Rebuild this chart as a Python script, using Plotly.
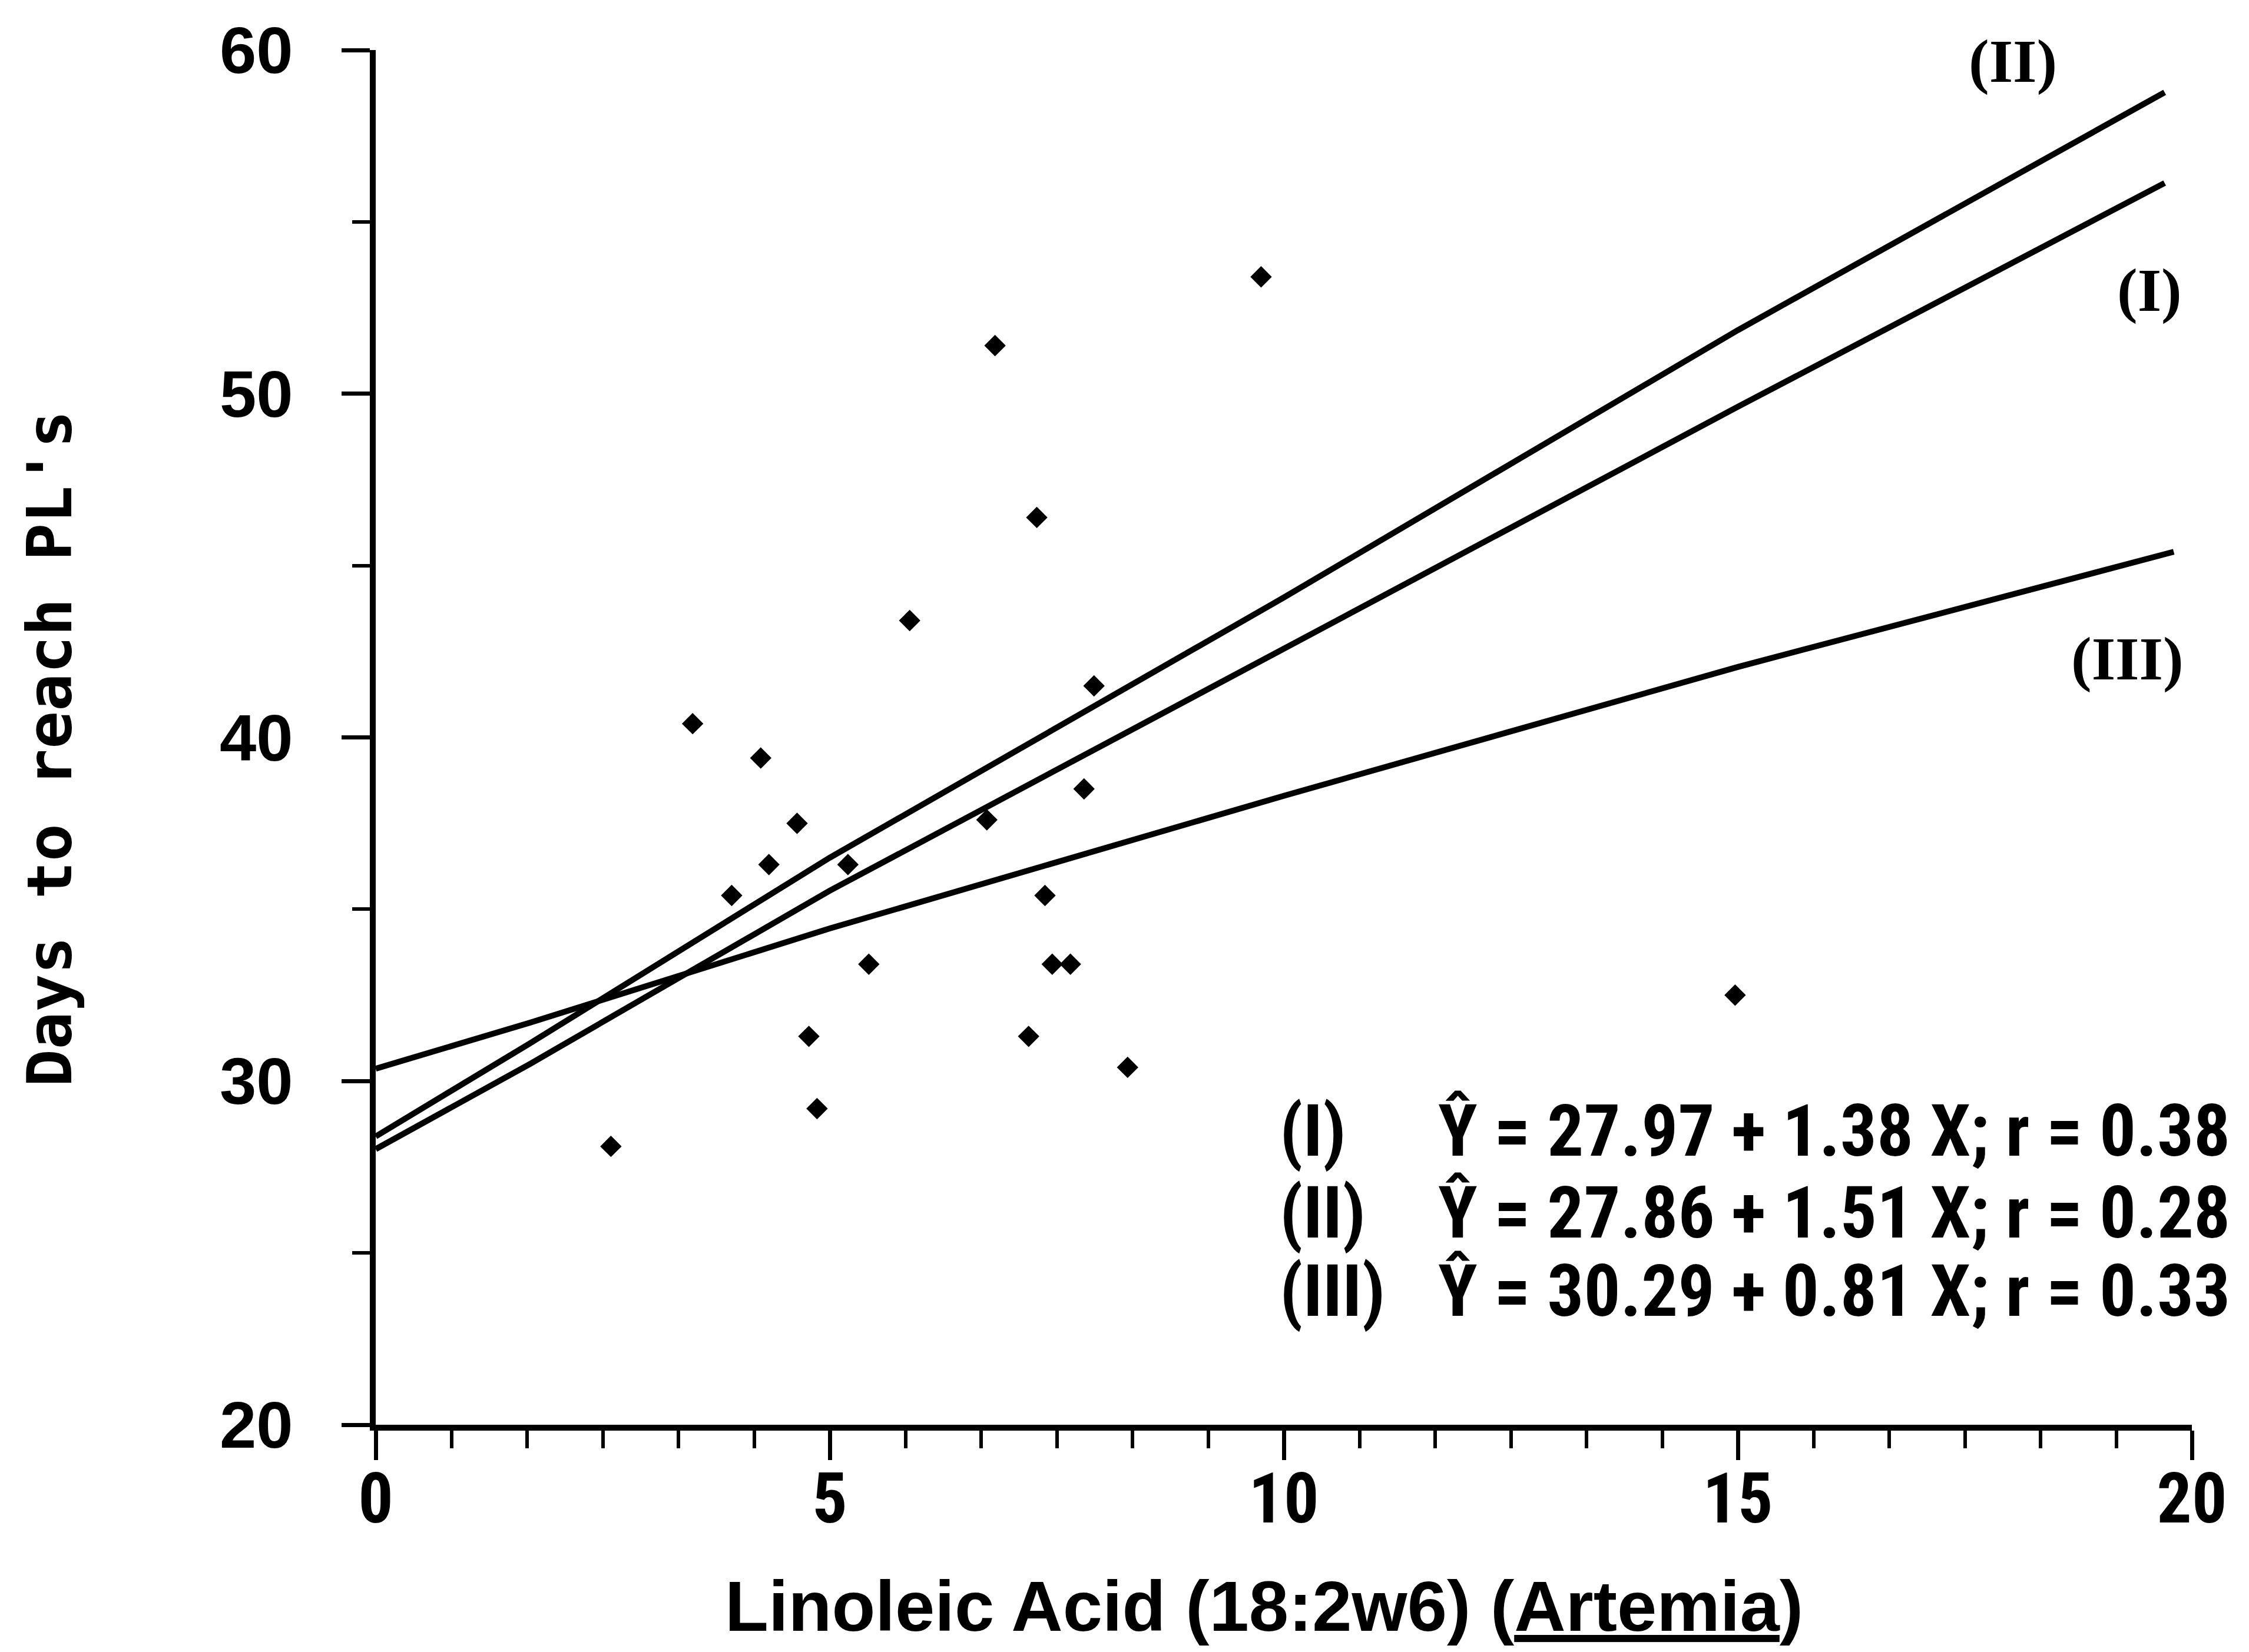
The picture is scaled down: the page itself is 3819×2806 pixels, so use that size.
import plotly.graph_objects as go

# ---- data ----
pt_x = [2.59, 3.49, 3.92, 4.24, 4.33, 4.64, 4.77, 4.86, 5.20, 5.43, 5.88,
        6.73, 6.82, 7.19, 7.28, 7.37, 7.45, 7.65, 7.80, 7.91, 8.28, 9.75, 14.97]
pt_y = [28.1, 40.4, 35.4, 39.4, 36.3, 37.5, 31.3, 29.2, 36.3, 33.4, 43.4,
        37.6, 51.4, 31.3, 46.4, 35.4, 33.4, 33.4, 38.5, 41.5, 30.4, 53.4, 32.5]

# regression lines as drawn
line_I_x = [0, 1.7, 5, 10, 15, 19.7]
line_I_y = [28.02, 30.50, 35.54, 42.56, 49.62, 56.13]
line_II_x = [0, 1.7, 5, 10, 15, 19.7]
line_II_y = [28.39, 31.10, 36.50, 44.07, 51.85, 58.77]
line_III_x = [0, 1.7, 5, 10, 15, 19.8]
line_III_y = [30.36, 31.70, 34.44, 38.30, 42.05, 45.40]

line_labels = ["(II)", "(I)", "(III)"]
line_label_x = [18.03, 19.53, 19.29]
line_label_y = [59.67, 53.01, 42.29]

eq_ids = ["(I)", "(II)", "(III)"]
eq_texts = ["Ŷ = 27.97 + 1.38 X; r = 0.38",
            "Ŷ = 27.86 + 1.51 X; r = 0.28",
            "Ŷ = 30.29 + 0.81 X; r = 0.33"]

x_title = "Linoleic Acid (18:2w6) (<u>Artemia</u>)"
y_title = "Days to reach PL's"

W, H = 3819, 2806
ML, MR, MT, MB = 638, 97, 85, 386
PW, PH = W - ML - MR, H - MT - MB

def px(xp):
    return (xp - ML) / PW

def py(yp):
    return (H - MB - yp) / PH

NARROW = "Liberation Sans Narrow, Arial Narrow, Roboto Condensed, sans-serif"

fig = go.Figure()
for lx, ly in [(line_I_x, line_I_y), (line_II_x, line_II_y), (line_III_x, line_III_y)]:
    fig.add_trace(go.Scatter(x=lx, y=ly, mode="lines",
                             line=dict(color="black", width=10),
                             showlegend=False, hoverinfo="skip"))
fig.add_trace(go.Scatter(x=pt_x, y=pt_y, mode="markers",
                         marker=dict(symbol="diamond", size=28, color="black"),
                         showlegend=False))

ann = []
for t, x, y in zip(line_labels, line_label_x, line_label_y):
    ann.append(dict(x=x, y=y, xref="x", yref="y", text=t, showarrow=False,
                    xanchor="center", yanchor="middle",
                    font=dict(family="Liberation Serif, serif", size=104, color="black", weight="bold")))

row_y = [1921, 2060, 2193]
for i, (tid, eq) in enumerate(zip(eq_ids, eq_texts)):
    ann.append(dict(x=px(2171), y=py(row_y[i]), xref="paper", yref="paper", text=tid,
                    showarrow=False, xanchor="left", yanchor="middle",
                    font=dict(family=NARROW, size=123, color="black", weight="bold")))
    ann.append(dict(x=px(2440), y=py(row_y[i]), xref="paper", yref="paper", text=eq,
                    showarrow=False, xanchor="left", yanchor="middle",
                    font=dict(family=NARROW, size=123, color="black", weight="bold")))

ann.append(dict(x=px(2146), y=py(2728), xref="paper", yref="paper", text=x_title,
                showarrow=False, xanchor="center", yanchor="middle",
                font=dict(family="Liberation Sans, Arial, sans-serif", size=121, color="black", weight="bold")))
ann.append(dict(x=px(84), y=py(1272), xref="paper", yref="paper", text=y_title,
                showarrow=False, xanchor="center", yanchor="middle", textangle=-90,
                font=dict(family="DejaVu Sans Mono, monospace", size=106, color="black", weight="bold")))

fig.update_layout(
    width=W, height=H,
    margin=dict(l=ML, r=MR, t=MT, b=MB, autoexpand=False),
    paper_bgcolor="white", plot_bgcolor="white",
    annotations=ann,
    showlegend=False,
)
fig.update_xaxes(range=[0, 20], dtick=5, tick0=0, showgrid=False, zeroline=False,
                 showline=True, linecolor="black", linewidth=10,
                 ticks="outside", ticklen=50, tickwidth=7, tickcolor="black",
                 ticklabelstandoff=-36,
                 tickfont=dict(family=NARROW, size=118, color="black", weight="bold"),
                 minor=dict(dtick=5/6, tick0=0, ticks="outside", ticklen=30, tickwidth=6, tickcolor="black"))
fig.update_yaxes(range=[20, 60], dtick=10, tick0=0, showgrid=False, zeroline=False,
                 showline=True, linecolor="black", linewidth=10,
                 ticks="outside", ticklen=48, tickwidth=7, tickcolor="black",
                 ticklabelstandoff=60,
                 tickfont=dict(family="Liberation Sans, Arial, sans-serif", size=112, color="black", weight="bold"),
                 minor=dict(dtick=5, ticks="outside", ticklen=30, tickwidth=6, tickcolor="black"))

fig.write_html("out.html")
